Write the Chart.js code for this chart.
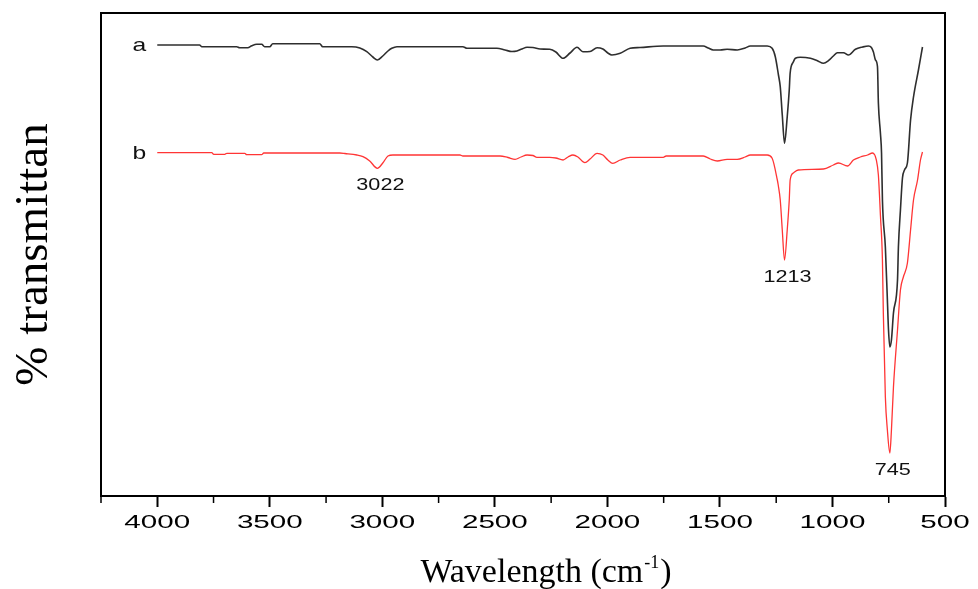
<!DOCTYPE html>
<html><head><meta charset="utf-8">
<script src="https://cdn.jsdelivr.net/npm/chart.js@4.4.1/dist/chart.umd.min.js"></script>
<style>html,body{margin:0;padding:0;background:#fff;}canvas{display:block;}</style>
</head><body>
<canvas id="c" width="978" height="589"></canvas>
<script>
const seriesNames = ['a', 'b'];
const waveA = [4000,3812,3803,3647,3634,3598,3580,3558,3536,3523,3500,3487,3278,3265,3136,3100,3069,3042,3022,2998,2975,2958,2935,2642,2624,2491,2455,2424,2402,2380,2357,2331,2299,2256,2229,2197,2166,2135,2109,2077,2046,2020,1998,1980,1943,1899,1855,1752,1574,1552,1530,1499,1468,1423,1388,1365,1290,1268,1254,1240,1232,1223,1213,1201,1192,1188,1174,1165,1143,1098,1067,1040,1018,996,978,951,929,898,866,840,827,818,809,800,796,787,782,778,765,756,751,745,738,729,711,707,698,689,680,667,653,640,618,600];
const transA = [451,451,449.3,449.3,448.3,448.3,450.3,451.7,451.7,449.3,449.3,452.3,452.3,449.3,449.3,448,444.3,439,436,440,445,447.7,449.3,449.3,447.7,447.7,446,444.5,445,447,448.7,448.5,447,446.7,444,437.7,443,448.7,444.3,444.5,448.3,447,443,441,442.7,447.7,448.5,450,450,448,446,446,446.7,446,448,450,450,447.7,439.3,421,409.3,381,352.7,379.3,406,423,434,437.7,438.7,437.7,435.3,432.7,435.3,440,443.3,443.3,441,446.7,449,450,448.5,444,436,429.3,393,363,343,296,249,196,166,149,156,183,216,249,286,318,326,333,376,399,426,449];
const waveB = [4000,3758,3749,3700,3691,3611,3603,3536,3527,3189,3166,3113,3086,3056,3022,2998,2975,2953,2655,2642,2477,2442,2410,2384,2357,2331,2313,2256,2229,2197,2175,2153,2131,2100,2077,2046,2020,1998,1976,1943,1899,1752,1739,1574,1543,1512,1468,1423,1388,1365,1290,1268,1245,1241,1232,1223,1213,1201,1192,1188,1174,1152,1040,996,973,933,907,876,844,822,805,796,787,778,774,765,756,745,738,729,711,698,685,667,653,640,622,609,600];
const transB = [343.3,343.3,341.7,341.7,342.7,342.7,341.3,341.3,343,343,342.5,341,339.3,335,327.7,333,340,341,341,340,340,338.5,336.7,339,341,340.5,338.7,338.7,338,336,339,341,339,333.3,337,342.7,341,336,332.7,336,338.7,338.7,340,340,337,335,336.7,336.7,339,341,341,337.7,316,311,296,266,236,266,296,316,323,326,327,331,333,330,336,339,341,343,336,321,281,236,183,99,66,43,66,109,166,206,219,233,266,296,316,336,344];
const xMajorTicks = [4000,3500,3000,2500,2000,1500,1000,500];
const xTickLabels = ['4000','3500','3000','2500','2000','1500','1000','500'];
const xMinorTicks = [4250,3750,3250,2750,2250,1750,1250,750];
const peakWaves = [3022,1213,745];
const peakLabels = ['3022','1213','745'];
const yTitle = '% transmittan';
const xTitleMain = 'Wavelength (cm';
const xTitleSup = '-1';
const xTitleEnd = ')';

function stretchedText(ctx, text, x, y, font, sx, align, color) {
  ctx.save();
  ctx.font = font; ctx.fillStyle = color; ctx.textBaseline = 'alphabetic'; ctx.textAlign = 'left';
  const w = ctx.measureText(text).width * sx;
  const left = align === 'center' ? x - w / 2 : (align === 'right' ? x - w : x);
  ctx.translate(left, y); ctx.scale(sx, 1);
  ctx.fillText(text, 0, 0);
  ctx.restore();
}

const decor = {
  id: 'decor',
  afterDraw(chart) {
    const ctx = chart.ctx, a = chart.chartArea, x = chart.scales.x, y = chart.scales.y;
    ctx.save();
    ctx.strokeStyle = '#000'; ctx.lineWidth = 2;
    ctx.strokeRect(a.left, a.top, a.right - a.left, a.bottom - a.top);
    ctx.lineWidth = 1.5; ctx.beginPath();
    xMinorTicks.forEach(v => { const px = x.getPixelForValue(v); ctx.moveTo(px, a.bottom); ctx.lineTo(px, a.bottom + 7); });
    ctx.stroke();
    ctx.restore();
    xMajorTicks.forEach((v, i) => stretchedText(ctx, xTickLabels[i], x.getPixelForValue(v), a.bottom + 32, '18.5px "Liberation Sans"', 1.6, 'center', '#000'));
    const sets = [[waveA, transA], [waveB, transB]];
    sets.forEach((s, i) => {
      const px = x.getPixelForValue(s[0][0]) - 11;
      const py = y.getPixelForValue(s[1][0]) + 6;
      stretchedText(ctx, seriesNames[i], px, py, '19px "Liberation Sans"', 1.3, 'right', '#111');
    });
    peakWaves.forEach((w, i) => {
      const idx = waveB.indexOf(w);
      const px = x.getPixelForValue(w) + 3;
      const py = y.getPixelForValue(transB[idx]) + 22;
      stretchedText(ctx, peakLabels[i], px, py, '16px "Liberation Sans"', 1.35, 'center', '#111');
    });
    ctx.save();
    ctx.fillStyle = '#000'; ctx.textBaseline = 'alphabetic'; ctx.textAlign = 'left';
    const mainFont = '34px "Liberation Serif"', supFont = '18px "Liberation Serif"';
    ctx.font = mainFont; const w1 = ctx.measureText(xTitleMain).width; const w3 = ctx.measureText(xTitleEnd).width;
    ctx.font = supFont; const w2 = ctx.measureText(xTitleSup).width;
    const cx = (a.left + a.right) / 2 + 22, by = a.bottom + 86;
    const sx0 = cx - (w1 + w2 + w3) / 2;
    ctx.font = mainFont; ctx.fillText(xTitleMain, sx0, by);
    ctx.font = supFont; ctx.fillText(xTitleSup, sx0 + w1 + 1, by - 14);
    ctx.font = mainFont; ctx.fillText(xTitleEnd, sx0 + w1 + w2 + 2, by);
    ctx.restore();
  }
};

new Chart(document.getElementById('c'), {
  type: 'line',
  data: {
    datasets: [
      { label: seriesNames[0], data: waveA.map((w, i) => ({ x: w, y: transA[i] })), borderColor: '#2e2e2e', borderWidth: 1.6, pointRadius: 0, cubicInterpolationMode: 'monotone', fill: false },
      { label: seriesNames[1], data: waveB.map((w, i) => ({ x: w, y: transB[i] })), borderColor: '#ff3535', borderWidth: 1.3, pointRadius: 0, cubicInterpolationMode: 'monotone', fill: false }
    ]
  },
  options: {
    responsive: false, animation: false, devicePixelRatio: 1,
    layout: { padding: { top: 13, right: 33, left: 0, bottom: 0 } },
    plugins: { legend: { display: false }, tooltip: { enabled: false } },
    scales: {
      x: {
        type: 'linear', reverse: true, min: 500, max: 4250,
        afterBuildTicks: s => { s.ticks = xMajorTicks.map(v => ({ value: v })); },
        afterFit: s => { s.height = 93; },
        ticks: { display: false },
        grid: { display: true, drawOnChartArea: false, drawTicks: true, tickLength: 11, tickWidth: 2, tickColor: '#000' },
        border: { display: true, color: '#000', width: 2 },
        title: { display: false }
      },
      y: {
        type: 'linear', min: 0, max: 483,
        afterFit: s => { s.width = 101; },
        ticks: { display: false },
        grid: { display: false, drawTicks: false },
        border: { display: true, color: '#000', width: 2 },
        title: { display: true, text: yTitle, color: '#000', font: { family: '"Liberation Serif"', size: 47 }, padding: { top: 6, bottom: 0 } }
      }
    }
  },
  plugins: [decor]
});
</script>
</body></html>
